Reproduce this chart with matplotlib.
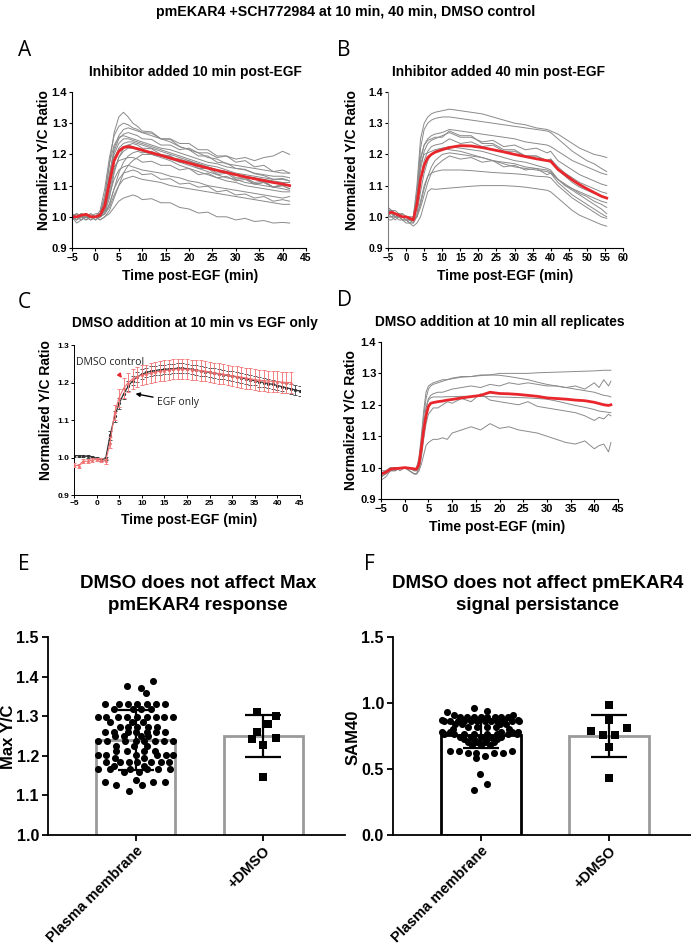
import matplotlib
matplotlib.use("Agg")
import matplotlib.pyplot as plt
import numpy as np

plt.rcParams['font.family'] = ['Liberation Sans', 'DejaVu Sans']

W, H = 691, 946
GRAY = '#8a8a8a'
RED = '#e8262c'

# ---------------- Panel A data ----------------
tA = [-5, -4, -3, -2, -1, 0, 1, 2, 3, 4, 5, 6, 7, 8, 9, 10, 12, 14, 16, 18, 20, 22, 24, 26, 28, 30, 32, 34, 36, 38, 40, 41.5]
A_traces = [
    [1.00, 0.99, 1.01, 1.00, 1.00, 1.00, 1.01, 1.06, 1.17, 1.27, 1.32, 1.335, 1.32, 1.30, 1.29, 1.275, 1.272, 1.25, 1.248, 1.225, 1.215, 1.195, 1.195, 1.175, 1.172, 1.155, 1.152, 1.138, 1.132, 1.12, 1.123, 1.115],
    [1.01, 1.00, 1.00, 0.99, 1.00, 1.00, 1.02, 1.09, 1.19, 1.26, 1.29, 1.30, 1.295, 1.285, 1.28, 1.27, 1.268, 1.25, 1.25, 1.235, 1.235, 1.215, 1.215, 1.195, 1.195, 1.175, 1.18, 1.16, 1.165, 1.145, 1.15, 1.14],
    [0.99, 1.00, 1.01, 1.00, 1.00, 1.00, 1.00, 1.04, 1.13, 1.22, 1.26, 1.28, 1.285, 1.28, 1.275, 1.27, 1.26, 1.25, 1.24, 1.225, 1.215, 1.205, 1.19, 1.185, 1.17, 1.165, 1.16, 1.155, 1.15, 1.145, 1.14, 1.14],
    [1.00, 1.01, 1.00, 1.00, 0.99, 1.00, 1.01, 1.05, 1.14, 1.21, 1.25, 1.265, 1.27, 1.265, 1.26, 1.25, 1.248, 1.23, 1.23, 1.215, 1.22, 1.205, 1.205, 1.19, 1.195, 1.185, 1.19, 1.18, 1.19, 1.195, 1.21, 1.20],
    [1.00, 1.00, 0.99, 1.01, 1.00, 1.00, 1.00, 1.03, 1.12, 1.20, 1.235, 1.25, 1.25, 1.245, 1.24, 1.235, 1.225, 1.215, 1.205, 1.195, 1.185, 1.175, 1.165, 1.16, 1.15, 1.14, 1.135, 1.13, 1.125, 1.12, 1.12, 1.115],
    [1.01, 1.00, 1.00, 1.00, 1.01, 1.00, 1.00, 1.02, 1.10, 1.18, 1.22, 1.235, 1.24, 1.24, 1.235, 1.23, 1.22, 1.21, 1.20, 1.19, 1.18, 1.17, 1.16, 1.15, 1.145, 1.135, 1.13, 1.125, 1.12, 1.115, 1.11, 1.11],
    [1.00, 0.99, 1.00, 1.01, 1.00, 0.99, 1.00, 1.01, 1.06, 1.14, 1.19, 1.22, 1.23, 1.235, 1.23, 1.22, 1.218, 1.20, 1.195, 1.175, 1.175, 1.155, 1.155, 1.135, 1.14, 1.12, 1.125, 1.105, 1.11, 1.095, 1.10, 1.09],
    [1.00, 1.00, 1.01, 1.00, 1.00, 1.00, 1.01, 1.04, 1.12, 1.19, 1.215, 1.225, 1.23, 1.225, 1.22, 1.215, 1.205, 1.195, 1.185, 1.175, 1.165, 1.155, 1.145, 1.135, 1.125, 1.12, 1.11, 1.105, 1.10, 1.095, 1.09, 1.085],
    [0.99, 1.00, 1.00, 0.99, 1.00, 1.00, 1.00, 1.02, 1.08, 1.15, 1.19, 1.21, 1.22, 1.22, 1.215, 1.21, 1.20, 1.19, 1.18, 1.165, 1.155, 1.145, 1.135, 1.125, 1.115, 1.11, 1.10, 1.095, 1.09, 1.085, 1.08, 1.08],
    [1.00, 1.01, 1.00, 1.00, 0.99, 1.00, 1.00, 1.01, 1.04, 1.09, 1.14, 1.175, 1.195, 1.205, 1.21, 1.205, 1.21, 1.195, 1.195, 1.175, 1.18, 1.16, 1.16, 1.14, 1.145, 1.125, 1.125, 1.11, 1.115, 1.095, 1.10, 1.09],
    [1.00, 1.00, 1.00, 1.01, 1.00, 1.00, 0.99, 1.00, 1.02, 1.06, 1.10, 1.14, 1.165, 1.18, 1.19, 1.20, 1.20, 1.195, 1.19, 1.185, 1.175, 1.17, 1.16, 1.15, 1.145, 1.135, 1.13, 1.12, 1.115, 1.11, 1.105, 1.10],
    [1.01, 1.00, 0.99, 1.00, 1.00, 1.00, 1.00, 1.03, 1.10, 1.16, 1.18, 1.185, 1.19, 1.19, 1.185, 1.175, 1.178, 1.165, 1.165, 1.15, 1.155, 1.135, 1.14, 1.125, 1.13, 1.115, 1.12, 1.105, 1.11, 1.095, 1.105, 1.10],
    [1.00, 1.00, 1.01, 1.00, 1.00, 0.99, 1.00, 1.02, 1.07, 1.12, 1.15, 1.16, 1.165, 1.16, 1.155, 1.15, 1.145, 1.14, 1.13, 1.125, 1.115, 1.11, 1.10, 1.095, 1.09, 1.085, 1.08, 1.075, 1.07, 1.065, 1.06, 1.065],
    [1.00, 0.99, 1.00, 1.00, 1.01, 1.00, 1.00, 1.01, 1.04, 1.09, 1.12, 1.14, 1.145, 1.15, 1.145, 1.135, 1.138, 1.12, 1.122, 1.105, 1.108, 1.095, 1.098, 1.08, 1.085, 1.07, 1.073, 1.06, 1.065, 1.05, 1.055, 1.05],
    [1.00, 1.00, 1.00, 0.99, 1.00, 1.00, 1.00, 1.01, 1.03, 1.07, 1.10, 1.12, 1.125, 1.13, 1.125, 1.12, 1.115, 1.11, 1.10, 1.095, 1.09, 1.085, 1.08, 1.075, 1.07, 1.065, 1.06, 1.055, 1.05, 1.045, 1.04, 1.04],
    [1.00, 0.98, 0.99, 1.00, 0.99, 1.00, 0.99, 1.00, 1.01, 1.03, 1.05, 1.06, 1.065, 1.07, 1.065, 1.055, 1.058, 1.045, 1.045, 1.03, 1.025, 1.012, 1.015, 1.00, 1.00, 0.99, 0.995, 0.985, 0.988, 0.98, 0.982, 0.98],
    [1.00, 1.01, 1.00, 1.00, 1.00, 1.01, 1.01, 1.07, 1.17, 1.23, 1.255, 1.26, 1.255, 1.25, 1.245, 1.24, 1.23, 1.22, 1.215, 1.205, 1.195, 1.185, 1.175, 1.17, 1.16, 1.155, 1.15, 1.14, 1.135, 1.13, 1.13, 1.125],
]
A_mean = [1.00, 1.00, 1.005, 1.008, 1.00, 1.00, 1.005, 1.035, 1.11, 1.18, 1.21, 1.222, 1.225, 1.222, 1.218, 1.214, 1.205, 1.197, 1.188, 1.18, 1.172, 1.164, 1.156, 1.149, 1.142, 1.135, 1.128, 1.122, 1.116, 1.11, 1.105, 1.10]

# ---------------- Panel B data ----------------
tB = [-5, -4, -3, -2, -1, 0, 1, 2, 3, 4, 5, 6, 7, 8, 10, 12, 15, 18, 21, 24, 27, 30, 33, 36, 39, 40, 42, 44, 46, 48, 50, 52, 54, 55.5]
B_traces = [
    [1.03, 1.02, 1.02, 1.01, 1.01, 1.00, 1.00, 1.00, 1.10, 1.25, 1.30, 1.32, 1.33, 1.335, 1.34, 1.345, 1.34, 1.335, 1.33, 1.32, 1.31, 1.30, 1.295, 1.285, 1.28, 1.275, 1.265, 1.25, 1.235, 1.22, 1.21, 1.20, 1.195, 1.19],
    [1.02, 1.02, 1.01, 1.01, 1.00, 1.00, 1.00, 0.99, 1.08, 1.22, 1.28, 1.30, 1.31, 1.315, 1.32, 1.32, 1.315, 1.31, 1.305, 1.30, 1.295, 1.29, 1.285, 1.28, 1.275, 1.27, 1.25, 1.23, 1.21, 1.195, 1.18, 1.17, 1.155, 1.145],
    [1.02, 1.01, 1.01, 1.00, 1.00, 1.00, 0.99, 0.99, 1.05, 1.18, 1.23, 1.25, 1.26, 1.265, 1.27, 1.28, 1.275, 1.27, 1.265, 1.26, 1.255, 1.25, 1.24, 1.235, 1.23, 1.225, 1.21, 1.195, 1.18, 1.17, 1.16, 1.15, 1.14, 1.135],
    [1.01, 1.02, 1.00, 1.00, 1.01, 1.00, 0.99, 0.99, 1.04, 1.15, 1.21, 1.235, 1.245, 1.25, 1.26, 1.27, 1.255, 1.255, 1.24, 1.245, 1.225, 1.23, 1.215, 1.22, 1.205, 1.21, 1.18, 1.165, 1.15, 1.135, 1.125, 1.115, 1.105, 1.10],
    [1.02, 1.01, 1.00, 1.00, 1.00, 1.00, 0.99, 0.99, 1.03, 1.12, 1.18, 1.21, 1.225, 1.23, 1.235, 1.25, 1.235, 1.24, 1.225, 1.23, 1.21, 1.21, 1.195, 1.195, 1.18, 1.185, 1.16, 1.14, 1.125, 1.11, 1.10, 1.09, 1.08, 1.075],
    [1.01, 1.00, 1.00, 1.01, 1.00, 0.99, 0.99, 0.98, 1.01, 1.08, 1.14, 1.18, 1.20, 1.21, 1.22, 1.225, 1.22, 1.215, 1.21, 1.20, 1.19, 1.18, 1.175, 1.165, 1.155, 1.15, 1.12, 1.10, 1.09, 1.075, 1.065, 1.05, 1.04, 1.03],
    [1.01, 1.01, 1.00, 1.00, 1.00, 0.99, 0.99, 0.99, 1.00, 1.04, 1.09, 1.13, 1.16, 1.18, 1.20, 1.205, 1.20, 1.195, 1.19, 1.18, 1.17, 1.16, 1.155, 1.15, 1.145, 1.14, 1.12, 1.10, 1.085, 1.07, 1.055, 1.04, 1.025, 1.01],
    [1.00, 1.00, 1.01, 1.00, 0.99, 0.99, 0.98, 0.99, 1.00, 1.03, 1.07, 1.11, 1.14, 1.16, 1.18, 1.195, 1.185, 1.19, 1.175, 1.18, 1.16, 1.165, 1.15, 1.155, 1.135, 1.14, 1.11, 1.09, 1.07, 1.055, 1.04, 1.025, 1.01, 1.00],
    [1.00, 1.00, 0.99, 1.00, 0.99, 0.99, 0.98, 0.98, 1.00, 1.05, 1.10, 1.13, 1.14, 1.145, 1.15, 1.15, 1.15, 1.148, 1.145, 1.142, 1.14, 1.138, 1.135, 1.13, 1.128, 1.125, 1.10, 1.08, 1.06, 1.045, 1.03, 1.015, 1.00, 0.995],
    [0.99, 0.99, 1.00, 0.99, 0.99, 0.98, 0.98, 0.97, 0.98, 1.00, 1.04, 1.08, 1.09, 1.088, 1.09, 1.092, 1.095, 1.098, 1.10, 1.10, 1.10, 1.098, 1.095, 1.09, 1.085, 1.08, 1.06, 1.04, 1.02, 1.005, 0.995, 0.985, 0.975, 0.97],
    [1.02, 1.01, 1.01, 1.00, 1.00, 1.00, 0.99, 1.00, 1.07, 1.17, 1.20, 1.205, 1.21, 1.215, 1.22, 1.215, 1.21, 1.20, 1.19, 1.18, 1.175, 1.17, 1.16, 1.155, 1.15, 1.145, 1.12, 1.105, 1.09, 1.08, 1.07, 1.06, 1.05, 1.045],
    [1.03, 1.02, 1.01, 1.01, 1.00, 1.00, 0.99, 0.99, 1.06, 1.19, 1.23, 1.245, 1.25, 1.255, 1.255, 1.275, 1.26, 1.26, 1.235, 1.235, 1.215, 1.215, 1.195, 1.195, 1.18, 1.185, 1.15, 1.13, 1.11, 1.095, 1.085, 1.075, 1.065, 1.06],
]
B_mean = [1.01, 1.015, 1.01, 1.005, 1.00, 1.00, 0.995, 0.99, 1.04, 1.12, 1.165, 1.19, 1.20, 1.207, 1.215, 1.222, 1.228, 1.227, 1.222, 1.215, 1.208, 1.20, 1.193, 1.186, 1.18, 1.178, 1.152, 1.135, 1.118, 1.103, 1.09, 1.078, 1.066, 1.06]

# ---------------- Panel C data ----------------
tC_egf = list(range(-5, 46))
C_egf_mean = [1.005, 1.005, 1.004, 1.003, 1.002, 0.998, 0.995, 0.997, 1.06, 1.11, 1.145, 1.17, 1.19, 1.205, 1.215, 1.222,
              1.227, 1.23, 1.232, 1.234, 1.235, 1.236, 1.237, 1.238, 1.238, 1.237, 1.235, 1.233, 1.231, 1.229, 1.227,
              1.225, 1.223, 1.221, 1.219, 1.217, 1.215, 1.212, 1.21, 1.207, 1.205, 1.202, 1.20, 1.197, 1.195, 1.192,
              1.189, 1.186, 1.183, 1.18, 1.177]
C_egf_err = [0.003, 0.003, 0.003, 0.003, 0.003, 0.003, 0.003, 0.004, 0.012, 0.015, 0.015, 0.014, 0.013, 0.013, 0.013, 0.013,
             0.013, 0.013, 0.013, 0.013, 0.013, 0.013, 0.013, 0.013, 0.013, 0.013, 0.013, 0.013, 0.013, 0.013, 0.013,
             0.013, 0.013, 0.013, 0.013, 0.013, 0.013, 0.013, 0.013, 0.013, 0.013, 0.013, 0.013, 0.013, 0.013, 0.013,
             0.013, 0.013, 0.013, 0.013, 0.013]
tC_dmso = list(range(-5, 44))
C_dmso_mean = [0.98, 0.978, 0.99, 0.99, 0.993, 0.995, 0.993, 0.99, 1.04, 1.12, 1.16, 1.185, 1.20, 1.21, 1.215, 1.22,
               1.222, 1.225, 1.228, 1.23, 1.232, 1.233, 1.235, 1.236, 1.236, 1.235, 1.234, 1.233, 1.232, 1.23, 1.228,
               1.226, 1.224, 1.222, 1.22, 1.218, 1.216, 1.214, 1.212, 1.21, 1.208, 1.206, 1.205, 1.204, 1.203, 1.202,
               1.201, 1.20, 1.20]
C_dmso_err = [0.005, 0.005, 0.005, 0.005, 0.005, 0.005, 0.005, 0.006, 0.015, 0.02, 0.024, 0.026, 0.026, 0.026, 0.026, 0.026,
              0.026, 0.026, 0.027, 0.027, 0.027, 0.027, 0.027, 0.027, 0.027, 0.027, 0.027, 0.027, 0.027, 0.027, 0.027,
              0.027, 0.027, 0.027, 0.027, 0.027, 0.027, 0.028, 0.028, 0.028, 0.028, 0.028, 0.028, 0.028, 0.028, 0.028,
              0.028, 0.028, 0.028]

# ---------------- Panel D data ----------------
tD = [-5, -4, -3, -2, -1, 0, 1, 2, 2.5, 3, 3.5, 4, 4.5, 5, 5.5, 6, 7, 8, 9, 10, 12, 14, 16, 18, 20, 22, 24, 26, 28, 30, 32, 34, 36, 38, 40, 41, 42, 43, 43.5]
D_traces = [
    [0.99, 0.99, 1.00, 1.00, 1.00, 1.00, 1.00, 0.99, 1.00, 1.03, 1.10, 1.18, 1.24, 1.26, 1.265, 1.27, 1.275, 1.28, 1.28, 1.285, 1.29, 1.29, 1.295, 1.295, 1.30, 1.30, 1.30, 1.30, 1.302, 1.303, 1.304, 1.305, 1.306, 1.307, 1.308, 1.309, 1.31, 1.31, 1.31],
    [0.98, 0.99, 0.99, 1.00, 1.00, 1.00, 1.00, 0.99, 0.99, 1.02, 1.08, 1.16, 1.22, 1.25, 1.26, 1.265, 1.27, 1.275, 1.28, 1.283, 1.288, 1.29, 1.293, 1.295, 1.294, 1.29, 1.285, 1.28, 1.272, 1.265, 1.26, 1.255, 1.25, 1.245, 1.24, 1.235, 1.23, 1.228, 1.225],
    [0.97, 0.98, 0.99, 0.99, 1.00, 1.00, 0.99, 0.98, 0.98, 1.00, 1.05, 1.12, 1.19, 1.22, 1.23, 1.235, 1.24, 1.24, 1.245, 1.25, 1.255, 1.26, 1.255, 1.265, 1.26, 1.27, 1.265, 1.27, 1.265, 1.26, 1.26, 1.255, 1.26, 1.25, 1.27, 1.255, 1.28, 1.26, 1.275],
    [0.98, 0.99, 1.00, 0.99, 1.00, 1.00, 1.00, 0.99, 0.99, 1.01, 1.06, 1.13, 1.19, 1.215, 1.222, 1.225, 1.225, 1.225, 1.226, 1.226, 1.227, 1.227, 1.227, 1.226, 1.225, 1.224, 1.223, 1.222, 1.22, 1.218, 1.212, 1.205, 1.198, 1.192, 1.185, 1.18, 1.178, 1.176, 1.175],
    [0.96, 0.97, 0.99, 0.99, 1.00, 1.00, 0.99, 0.98, 0.98, 0.99, 1.03, 1.09, 1.14, 1.17, 1.18, 1.19, 1.19, 1.20, 1.21, 1.205, 1.22, 1.21, 1.235, 1.215, 1.21, 1.205, 1.20, 1.21, 1.195, 1.19, 1.185, 1.18, 1.175, 1.165, 1.15, 1.16, 1.155, 1.17, 1.165],
    [0.97, 0.98, 0.99, 1.00, 0.99, 1.00, 0.99, 0.98, 0.98, 0.99, 1.01, 1.04, 1.07, 1.08, 1.085, 1.09, 1.09, 1.095, 1.09, 1.11, 1.12, 1.13, 1.12, 1.14, 1.125, 1.13, 1.12, 1.115, 1.11, 1.10, 1.09, 1.08, 1.075, 1.085, 1.06, 1.07, 1.075, 1.05, 1.08],
]
D_mean = [0.98, 0.985, 0.995, 0.997, 0.998, 1.00, 0.998, 0.996, 0.995, 1.01, 1.06, 1.12, 1.165, 1.195, 1.205, 1.207, 1.21, 1.212, 1.215, 1.217, 1.222, 1.226, 1.23, 1.24, 1.236, 1.235, 1.233, 1.23, 1.227, 1.222, 1.22, 1.218, 1.215, 1.213, 1.208, 1.204, 1.20, 1.198, 1.20]

# ---------------- Panels E / F data ----------------
groups = ['Plasma membrane', '+DMSO']
E_bar_mean = [1.24, 1.25]
E_bar_sd = [0.075, 0.052]
F_bar_mean = [0.76, 0.75]
F_bar_sd = [0.10, 0.16]

E_pm_vals = [1.388, 1.376, 1.372, 1.359,
             1.330, 1.330, 1.330, 1.330, 1.330, 1.330, 1.330,
             1.318, 1.318, 1.318, 1.318,
             1.298, 1.298, 1.298, 1.298, 1.298, 1.298, 1.298, 1.298, 1.298,
             1.285, 1.285, 1.285,
             1.272, 1.272, 1.272, 1.272, 1.272,
             1.260, 1.260, 1.260, 1.260, 1.260, 1.260, 1.260,
             1.250, 1.250, 1.250, 1.250,
             1.237, 1.237, 1.237, 1.237, 1.237, 1.237, 1.237, 1.237,
             1.225, 1.225, 1.225,
             1.213, 1.213, 1.213, 1.213,
             1.203, 1.203, 1.203, 1.203, 1.203, 1.203,
             1.195, 1.195,
             1.185, 1.185, 1.185, 1.185, 1.185, 1.185, 1.185,
             1.175, 1.175,
             1.167, 1.167, 1.167, 1.167, 1.167, 1.167,
             1.160, 1.160,
             1.140,
             1.133, 1.133, 1.133,
             1.127, 1.127,
             1.110]
E_pm_x = [0.14, -0.07, 0.04, 0.08,
          -0.24, -0.13, -0.06, 0.01, 0.09, 0.16, 0.23,
          -0.17, -0.02, 0.04, 0.12,
          -0.29, -0.23, -0.14, -0.07, 0.01, 0.09, 0.16, 0.22, 0.29,
          -0.20, -0.03, 0.06,
          -0.12, -0.06, 0.01, 0.10, 0.17,
          -0.24, -0.17, -0.06, 0.0, 0.09, 0.16, 0.23,
          -0.16, -0.09, 0.04, 0.10,
          -0.29, -0.22, -0.08, 0.0, 0.07, 0.15, 0.22, 0.29,
          -0.15, -0.01, 0.09,
          -0.15, -0.07, 0.07, 0.15,
          -0.29, -0.23, 0.0, 0.17, 0.24, 0.29,
          -0.16, 0.07,
          -0.23, -0.12, -0.05, 0.01, 0.12, 0.20, 0.26,
          -0.17, 0.07,
          -0.29, -0.20, -0.04, 0.09, 0.18, 0.27,
          -0.09, 0.03,
          0.0,
          -0.24, 0.14, 0.23,
          -0.15, 0.05,
          -0.05]
E_dmso_vals = [1.311, 1.300, 1.280, 1.260, 1.243, 1.228, 1.245, 1.147]
E_dmso_x = [-0.045, 0.10, 0.04, -0.045, -0.09, 0.0, 0.10, 0.0]

F_pm_vals = [0.960, 0.940, 0.930, 0.910, 0.910,
             0.895, 0.895, 0.895, 0.895, 0.895, 0.895, 0.895, 0.895,
             0.875, 0.875,
             0.860, 0.860, 0.860, 0.860, 0.860, 0.860, 0.860, 0.860, 0.860, 0.860, 0.860, 0.860,
             0.840, 0.840, 0.840, 0.840,
             0.820, 0.820, 0.820, 0.820,
             0.800, 0.800,
             0.780, 0.780, 0.780, 0.780, 0.780,
             0.765, 0.765, 0.765, 0.765, 0.765, 0.765, 0.765, 0.765,
             0.745, 0.745, 0.745, 0.745, 0.745,
             0.725, 0.725, 0.725, 0.725,
             0.705, 0.705, 0.705, 0.705,
             0.685, 0.685, 0.685,
             0.640, 0.640, 0.640,
             0.620, 0.620, 0.620, 0.620,
             0.600, 0.580, 0.460, 0.390, 0.340]
F_pm_x = [-0.05, 0.05, -0.26, -0.21, 0.25,
          -0.16, -0.11, -0.05, 0.0, 0.05, 0.11, 0.16, 0.21,
          -0.30, 0.29,
          -0.29, -0.24, -0.18, -0.13, -0.08, -0.03, 0.03, 0.08, 0.13, 0.18, 0.24, 0.30,
          -0.20, -0.15, 0.15, 0.20,
          -0.10, -0.03, 0.05, 0.12,
          -0.22, 0.22,
          -0.30, -0.24, 0.16, 0.24, 0.29,
          -0.29, -0.21, -0.13, -0.05, 0.05, 0.13, 0.21, 0.28,
          -0.16, -0.08, 0.0, 0.08, 0.16,
          -0.13, -0.05, 0.05, 0.13,
          -0.10, -0.03, 0.03, 0.10,
          -0.07, 0.0, 0.07,
          -0.24, -0.17, 0.24,
          -0.10, -0.04, 0.10, 0.17,
          0.03, -0.04, -0.01, 0.05, -0.05]
F_dmso_vals = [0.983, 0.870, 0.787, 0.756, 0.761, 0.807, 0.668, 0.434]
F_dmso_x = [0.0, 0.0, -0.14, -0.05, 0.05, 0.14, 0.0, 0.0]

# ---------------- figure ----------------
fig = plt.figure(figsize=(W / 100, H / 100), dpi=100)


def px_axes(x1, y1, x2, y2):
    return fig.add_axes([x1 / W, 1 - y2 / H, (x2 - x1) / W, (y2 - y1) / H])


def ftext(x, y, s, **kw):
    fig.text(x / W, 1 - y / H, s, **kw)


def style_trace_ax(ax, xlab=7.5, ylab=8, lw=0.8):
    for s in ['top', 'right']:
        ax.spines[s].set_visible(False)
    for s in ['left', 'bottom']:
        ax.spines[s].set_linewidth(lw)
    ax.tick_params(direction='out', length=2.5, width=lw, pad=1)
    ax.tick_params(axis='x', labelsize=xlab)
    ax.tick_params(axis='y', labelsize=ylab)
    for t in ax.get_xticklabels() + ax.get_yticklabels():
        t.set_fontweight('bold')


ftext(346, 12, 'pmEKAR4 +SCH772984 at 10 min, 40 min, DMSO control', ha='center', va='center',
      fontsize=10.2, fontweight='bold')

letter_kw = dict(fontsize=15, family=['Open Sans', 'DejaVu Sans'], ha='left', va='center')
ftext(18, 50, 'A', **letter_kw)
ftext(337, 50, 'B', **letter_kw)
ftext(18, 302, 'C', **letter_kw)
ftext(337, 300, 'D', **letter_kw)
ftext(18, 565, 'E', **letter_kw)
ftext(364, 565, 'F', **letter_kw)

tkw = dict(ha='center', va='center', fontsize=9.9, fontweight='bold')
lkw = dict(ha='center', va='center', fontsize=10, fontweight='bold')

# Panel A
axA = px_axes(72, 92, 306, 248)
for tr in A_traces:
    axA.plot(tA, tr, color=GRAY, lw=0.7)
axA.plot(tA, A_mean, color=RED, lw=2)
axA.set_xlim(-5, 45)
axA.set_ylim(0.9, 1.4)
axA.set_xticks(range(-5, 50, 5))
axA.set_yticks([0.9, 1.0, 1.1, 1.2, 1.3, 1.4])
style_trace_ax(axA, xlab=7.5, ylab=8)
ftext(195, 72, 'Inhibitor added 10 min post-EGF', **tkw)
ftext(44, 160, 'Normalized Y/C Ratio', rotation=90, **lkw)
ftext(190, 276, 'Time post-EGF (min)', **lkw)

# Panel B
axB = px_axes(388, 92, 623, 248)
for tr in B_traces:
    axB.plot(tB, tr, color=GRAY, lw=0.7)
axB.plot(tB, B_mean, color=RED, lw=2)
axB.set_xlim(-5, 60)
axB.set_ylim(0.9, 1.4)
axB.set_xticks(range(-5, 65, 5))
axB.set_yticks([0.9, 1.0, 1.1, 1.2, 1.3, 1.4])
style_trace_ax(axB, xlab=7, ylab=7.5)
axB.spines['left'].set_color('#808080')
ftext(498, 72, 'Inhibitor added 40 min post-EGF', **tkw)
ftext(352, 160, 'Normalized Y/C Ratio', rotation=90, **lkw)
ftext(505, 276, 'Time post-EGF (min)', **lkw)

# Panel C
axC = px_axes(74, 345, 300, 495)
axC.errorbar(tC_egf, C_egf_mean, yerr=C_egf_err, color='#333333', ecolor='#555555', lw=0.9,
             elinewidth=0.7, capsize=1.5, capthick=0.7, marker='o', ms=1.3, zorder=2)
axC.errorbar(tC_dmso, C_dmso_mean, yerr=C_dmso_err, color='#f07070', ecolor='#f48080', lw=0.8,
             elinewidth=0.7, capsize=1.5, capthick=0.7, marker='^', ms=1.3, zorder=3)
axC.set_xlim(-5, 45)
axC.set_ylim(0.9, 1.3)
axC.set_xticks(range(-5, 50, 5))
axC.set_yticks([0.9, 1.0, 1.1, 1.2, 1.3])
style_trace_ax(axC, xlab=6, ylab=6, lw=0.7)
axC.annotate('DMSO control', xy=(5.6, 1.212), xytext=(3.0, 1.254), color='#222222', fontsize=7.5,
             family=['Open Sans', 'DejaVu Sans'], ha='center', va='center',
             arrowprops=dict(arrowstyle='-|>', color='#e8262c', lw=1.0, mutation_scale=6, shrinkA=4, shrinkB=0))
axC.annotate('EGF only', xy=(8.6, 1.170), xytext=(13.4, 1.148), color='#222222', fontsize=7.5,
             family=['Open Sans', 'DejaVu Sans'], ha='left', va='center',
             arrowprops=dict(arrowstyle='-|>', color='black', lw=1.0, mutation_scale=6, shrinkA=1, shrinkB=0))
ftext(195, 323, 'DMSO addition at 10 min vs EGF only', **tkw)
ftext(46, 410, 'Normalized Y/C Ratio', rotation=90, **lkw)
ftext(189, 520, 'Time post-EGF (min)', **lkw)

# Panel D
axD = px_axes(381, 342, 618, 499)
for tr in D_traces:
    axD.plot(tD, tr, color=GRAY, lw=0.7)
axD.plot(tD, D_mean, color=RED, lw=2)
axD.set_xlim(-5, 45)
axD.set_ylim(0.9, 1.4)
axD.set_xticks(range(-5, 50, 5))
axD.set_yticks([0.9, 1.0, 1.1, 1.2, 1.3, 1.4])
style_trace_ax(axD, xlab=8, ylab=8)
ftext(500, 322, 'DMSO addition at 10 min all replicates', **tkw)
ftext(351, 420, 'Normalized Y/C Ratio', rotation=90, **lkw)
ftext(497, 527, 'Time post-EGF (min)', **lkw)


def bar_panel(ax, means, sds, edgecols, pm_x, pm_v, dm_x, dm_v, ylim, yticks, yticklabels):
    xpos = np.arange(len(groups))
    ax.bar(xpos, means, width=0.62, facecolor='white', edgecolor=edgecols, linewidth=2.0, zorder=1)
    ax.scatter(np.array(pm_x) + xpos[0], pm_v, s=26, marker='o', color='black', zorder=2, linewidths=0)
    ax.scatter(np.array(dm_x) + xpos[1], dm_v, s=28, marker='s', color='black', zorder=2, linewidths=0)
    ax.errorbar(xpos, means, yerr=sds, fmt='none', ecolor='black', elinewidth=1.6, capsize=13,
                capthick=1.6, zorder=3)
    ax.set_xlim(-0.685, 1.64)
    ax.set_ylim(*ylim)
    ax.set_yticks(yticks)
    ax.set_yticklabels(yticklabels, fontweight='bold')
    ax.set_xticks(xpos)
    ax.set_xticklabels(groups, rotation=45, ha='right', rotation_mode='anchor', fontweight='bold')
    for s in ['top', 'right']:
        ax.spines[s].set_visible(False)
    for s in ['left', 'bottom']:
        ax.spines[s].set_linewidth(1.3)
    ax.tick_params(direction='out', length=4.5, width=1.3, pad=2)
    ax.tick_params(axis='y', labelsize=11.5)
    ax.tick_params(axis='x', labelsize=10.5)


axE = px_axes(48, 637, 345, 835)
bar_panel(axE, E_bar_mean, E_bar_sd, ['#9a9a9a', '#9a9a9a'], E_pm_x, E_pm_vals, E_dmso_x, E_dmso_vals,
          (1.0, 1.5), [1.0, 1.1, 1.2, 1.3, 1.4, 1.5], ['1.0', '1.1', '1.2', '1.3', '1.4', '1.5'])
ftext(198, 584, 'DMSO does not affect Max', ha='center', va='center', fontsize=13.5, fontweight='bold')
ftext(198, 605, 'pmEKAR4 response', ha='center', va='center', fontsize=13.5, fontweight='bold')
ftext(9, 737, 'Max Y/C', rotation=90, ha='center', va='center', fontsize=12, fontweight='bold')

axF = px_axes(393, 637, 691, 835)
bar_panel(axF, F_bar_mean, F_bar_sd, ['black', '#9a9a9a'], F_pm_x, F_pm_vals, F_dmso_x, F_dmso_vals,
          (0.0, 1.5), [0.0, 0.5, 1.0, 1.5], ['0.0', '0.5', '1.0', '1.5'])
ftext(538, 584, 'DMSO does not affect pmEKAR4', ha='center', va='center', fontsize=13.5, fontweight='bold')
ftext(538, 605, 'signal persistance', ha='center', va='center', fontsize=13.5, fontweight='bold')
ftext(353, 737, 'SAM40', rotation=90, ha='center', va='center', fontsize=12, fontweight='bold')

fig.savefig('out.png', dpi=100)
